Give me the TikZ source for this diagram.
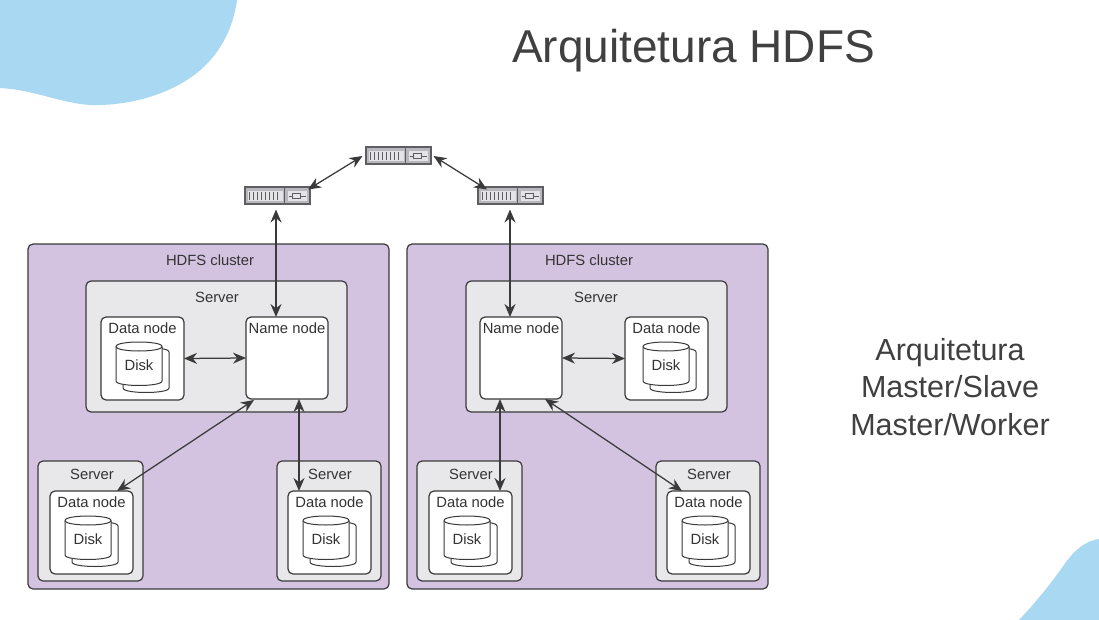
\documentclass[tikz,border=0pt]{standalone}
\usepackage{fontspec}
\setmainfont{Liberation Sans}
\usetikzlibrary{arrows.meta,calc}
\definecolor{blobblue}{HTML}{A8D8F2}
\definecolor{clusterfill}{HTML}{D3C3E0}
\definecolor{serverfill}{HTML}{E8E8EA}
\definecolor{linedark}{HTML}{3A3A3A}
\definecolor{routerdark}{HTML}{5E5E62}
\definecolor{routerlight}{HTML}{B8B8BC}
\definecolor{routerpale}{HTML}{E4E4E6}
\tikzset{
  x=1pt,y=-1pt,
  boxbase/.style={draw=linedark,line width=1.2pt,rounded corners=5pt,anchor=north west,inner sep=0pt,outer sep=0pt},
  clusterbox/.style={boxbase,fill=clusterfill},
  serverbox/.style={boxbase,fill=serverfill},
  whitebox/.style={boxbase,fill=white},
  lbl/.style={font=\fontsize{14.8}{16}\selectfont,text=black!80,inner sep=0pt},
  routerbox/.style={draw=routerdark,line width=2pt,fill=routerlight,anchor=north west,inner sep=0pt,outer sep=0pt,minimum width=65pt,minimum height=17pt},
  arr/.style={draw=linedark,line width=1.25pt,{Stealth[length=13pt,width=11pt]}-{Stealth[length=13pt,width=11pt]}},
  diskline/.style={draw=linedark,line width=1pt,fill=white}
}
\newcommand{\cluster}[3]{%
  \node[clusterbox,minimum width=361pt,minimum height=345pt] (#1) at (#2,#3) {};
  \node[lbl] (#1-l) at ([xshift=1.5pt,yshift=-16pt]#1.north) {HDFS cluster};}
\newcommand{\server}[7]{%
  \node[serverbox,minimum width=#4pt,minimum height=#5pt] (#1) at (#2,#3) {};
  \node[lbl] (#1-l) at ([xshift=#7pt,yshift=-#6pt]#1.north) {Server};}
\newcommand{\namenode}[3]{%
  \node[whitebox,minimum width=82pt,minimum height=82pt] (#1) at (#2,#3) {};
  \node[lbl] (#1-l) at ([yshift=-11pt]#1.north) {Name node};}
\newcommand{\datanode}[4]{% name,x,y,disk offset
  \node[whitebox,minimum width=83pt,minimum height=83pt] (#1) at (#2,#3) {};
  \node[lbl] (#1-l) at ([yshift=-11pt]#1.north) {Data node};
  \begin{scope}[shift={(#2+#4,#3)}]
    \draw[diskline] (22,35) -- (22,71) .. controls (22,77) and (68,77) .. (68,71) -- (68,35) .. controls (68,29) and (22,29) .. cycle;
    \draw[diskline] (15,29.5) -- (15,64) .. controls (15,70) and (61,70) .. (61,64) -- (61,29.5) .. controls (61,23.5) and (15,23.5) .. cycle;
    \draw[diskline] (15,29.5) .. controls (15,35.5) and (61,35.5) .. (61,29.5);
    \node[lbl] (#1-d) at (38,48) {Disk};
  \end{scope}}
\newcommand{\router}[3]{%
  \node[routerbox] (#1) at (#2,#3) {};
  \begin{scope}[shift={(#2,#3)}]
    \fill[routerpale] (3,3.5) rectangle (38,13.5);
    \foreach \i in {5,9,...,33} \draw[routerdark,line width=1.4pt] (\i,4.5) -- (\i,12.5);
    \draw[routerdark,line width=1pt] (40,1) -- (40,16);
    \fill[routerpale] (43,3.5) rectangle (62,13.5);
    \draw[routerdark,line width=0.9pt] (44,8.5) -- (48,8.5) (48,6) rectangle (56,11) (56,8.5) -- (61,8.5);
  \end{scope}}
\begin{document}
\begin{tikzpicture}
\useasboundingbox (0,0) rectangle (1099,620);
\fill[white] (0,0) rectangle (1099,620);
% decorative blobs
\fill[blobblue] (237,0) .. controls (232,35) and (215,62) .. (187,80) .. controls (160,97) and (125,106) .. (90,105) .. controls (60,103) and (35,90) .. (0,88) -- (0,0) -- cycle;
\fill[blobblue] (1099,539) .. controls (1085,541) and (1075,550) .. (1066,562) .. controls (1050,585) and (1035,603) .. (1019,620) -- (1099,620) -- cycle;
% titles
\node[font=\fontsize{46}{50}\selectfont,text=black!75] (title) at (693.5,51) {Arquitetura HDFS};
\node[font=\fontsize{30.5}{37.5}\selectfont,text=black!75,align=center] (side) at (950,387) {Arquitetura\\Master/Slave\\Master/Worker};
% routers
\router{rT}{365.5}{147.5}
\router{rL}{244.5}{187.5}
\router{rR}{477.5}{187.5}
% cluster 1
\cluster{cA}{28}{244}
\server{sA}{86}{281}{261}{131}{16}{0.5}
\datanode{dA}{101}{317}{0}
\namenode{nA}{246}{317}
\server{sAl}{38}{461}{105}{120}{13}{1.5}
\datanode{dAl}{50}{491}{0}
\server{sAr}{277}{461}{104}{120}{13}{1}
\datanode{dAr}{288}{491}{0}
% cluster 2
\cluster{cB}{407}{244}
\server{sB}{466}{281}{261}{131}{16}{-0.5}
\namenode{nB}{480}{317}
\datanode{dB}{625}{317}{3}
\server{sBl}{417}{461}{105}{120}{13}{1.5}
\datanode{dBl}{429}{491}{0}
\server{sBr}{656}{461}{104}{120}{13}{1}
\datanode{dBr}{667}{491}{0}
% connectors
\draw[arr] ([xshift=-3pt]rT.west) -- ([xshift=31pt,yshift=-2pt]rL.north);
\draw[arr] ([xshift=3pt]rT.east) -- ([xshift=-23pt,yshift=-2pt]rR.north);
\draw[arr] ([xshift=-1pt,yshift=-5pt]rL.south) -- ([xshift=-11pt]nA.north);
\draw[arr] ([yshift=-5pt]rR.south) -- (rR.south |- nB.north);
\draw[arr] (dA.east) -- (nA.west);
\draw[arr] (nB.east) -- (dB.west);
\draw[arr] ([xshift=8pt,yshift=-1pt]nA.south west) -- ([xshift=67pt]dAl.north west);
\draw[arr] ([xshift=12pt]nA.south) -- ([xshift=-30.5pt]dAr.north);
\draw[arr] ([xshift=-21pt]nB.south) -- ([xshift=71pt]dBl.north west);
\draw[arr] ([xshift=24pt]nB.south) -- ([xshift=15pt]dBr.north west);
\end{tikzpicture}
\end{document}
